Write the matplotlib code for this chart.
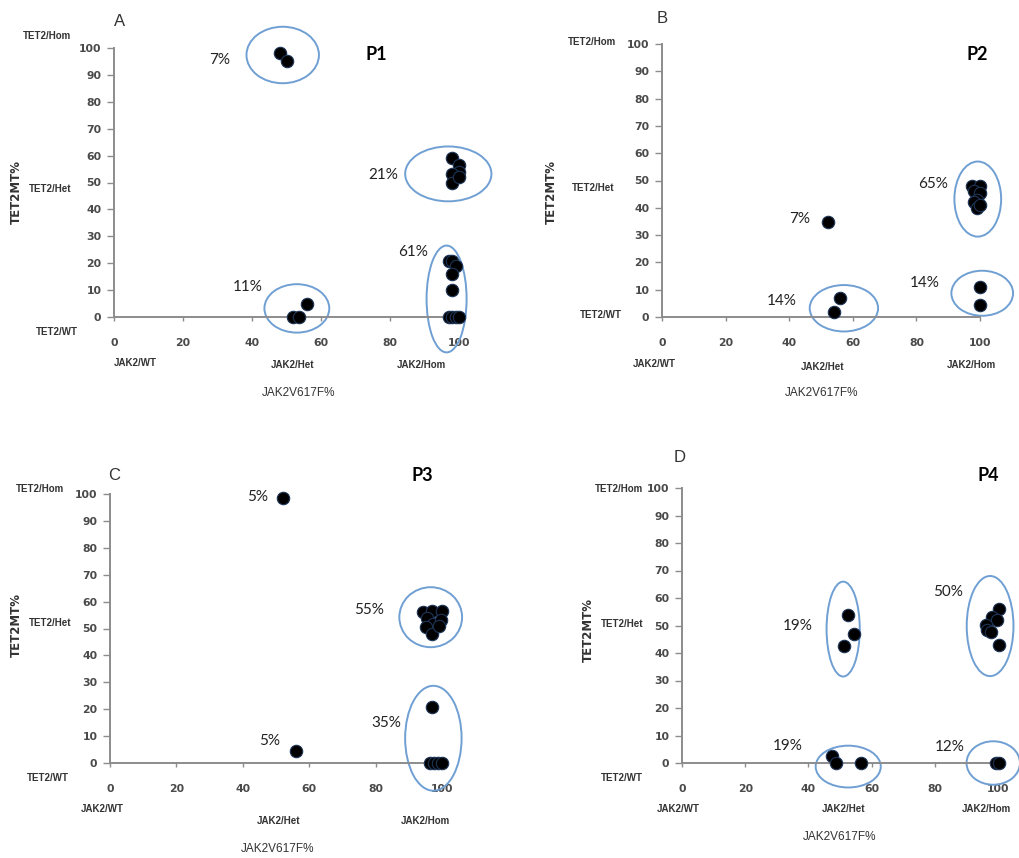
import matplotlib
matplotlib.use("Agg")
import matplotlib.pyplot as plt
from matplotlib.patches import Ellipse

W, H = 1019, 858

# ---------------- data ----------------
p1_x = [48, 50, 98, 100, 100, 98, 98, 100, 97, 98, 99, 98, 98, 97, 98, 99, 100, 52, 53.5, 56]
p1_y = [98, 95, 59, 56.5, 54, 53, 50, 52, 21, 21, 19, 16, 10, 0, 0, 0, 0, 0, 0, 5]
p1_clusters = [(48.9, 97.4, 21, 21), (96.9, 53.2, 25, 20.4), (96.4, 6.7, 11.6, 39.7), (53, 3.2, 18.8, 18)]
p1_labels = ["7%", "21%", "61%", "11%"]
p1_label_xy = [(30.7, 95.5), (78, 52.8), (86.8, 24), (38.9, 11)]

p2_x = [52.3, 97.5, 100, 98, 100, 99, 98, 99, 100, 100, 100, 56, 54]
p2_y = [34.7, 48, 48, 46, 45.5, 43, 42, 40, 41, 11, 4.5, 7, 2]
p2_clusters = [(99.3, 43.2, 14.7, 27.5), (100.7, 8.7, 19.4, 16.5), (57.2, 3.2, 21.5, 17)]
p2_labels = ["7%", "65%", "14%", "14%"]
p2_label_xy = [(43.4, 35.8), (85.3, 48.6), (82.7, 12.3), (37.6, 5.9)]

p3_x = [52, 56, 94.4, 97.1, 99.9, 95.6, 97.4, 99.6, 95.2, 96.9, 99.1, 96.9, 96.5, 97.6, 98.9, 100.1]
p3_y = [98.4, 4.6, 56, 56.6, 56.6, 53.8, 51.7, 53.2, 50.4, 47.8, 51, 20.9, 0, 0, 0, 0]
p3_clusters = [(96.6, 54.2, 18.9, 22.3), (97.4, 9.2, 17, 39)]
p3_labels = ["5%", "55%", "35%", "5%"]
p3_label_xy = [(44.4, 99), (78.1, 56.9), (83.3, 14.8), (48, 8.3)]

p4_x = [52.4, 54.5, 51.4, 100.3, 98, 99.8, 96.2, 96.6, 97.7, 100.3, 47.4, 48.6, 56.5, 99.4, 100.4]
p4_y = [53.8, 46.8, 42.7, 56, 53.2, 52, 50.2, 48.4, 47.5, 42.9, 2.5, 0, 0, 0, 0]
p4_clusters = [(51, 48.7, 10.5, 34.5), (97.5, 49.8, 14.8, 36.4), (52.6, -1.3, 20.6, 15.2), (98.5, 0, 16.9, 15.8)]
p4_labels = ["19%", "50%", "19%", "12%"]
p4_label_xy = [(36.5, 49.8), (84.3, 62.3), (33.4, 6.2), (84.6, 5.9)]

x_ticks = [0, 20, 40, 60, 80, 100]
y_ticks = [0, 10, 20, 30, 40, 50, 60, 70, 80, 90, 100]
tet2_cats = ["TET2/Hom", "TET2/Het", "TET2/WT"]
jak2_cats = ["JAK2/WT", "JAK2/Het", "JAK2/Hom"]
x_title = "JAK2V617F%"
y_title = "TET2MT%"

# ---------------- layout ----------------
panels = [
    dict(letter="A", name="P1", x=p1_x, y=p1_y, cl=p1_clusters, lab=p1_labels, labxy=p1_label_xy,
         box=(114, 459, 317, 48), letter_xy=(1.7, 109.8), name_xy=(76, 97.4),
         tet=[(46.7, 36), (50, 189), (56.7, 331.7)], jak=[(135, 363.3), (292.7, 365), (421.7, 365)],
         xt=(298.3, 393.3), yt=(16, 191.7)),
    dict(letter="B", name="P2", x=p2_x, y=p2_y, cl=p2_clusters, lab=p2_labels, labxy=p2_label_xy,
         box=(662, 980, 317, 44), letter_xy=(0, 109.4), name_xy=(99, 96),
         tet=[(591.7, 41.7), (593.3, 188.3), (600.7, 315)], jak=[(654, 364), (822.7, 367.3), (971.7, 365)],
         xt=(821.7, 393.3), yt=(551.7, 191.7)),
    dict(letter="C", name="P3", x=p3_x, y=p3_y, cl=p3_clusters, lab=p3_labels, labxy=p3_label_xy,
         box=(110, 442, 763, 494), letter_xy=(1.3, 107), name_xy=(94.2, 106.7),
         tet=[(40, 489.3), (50, 622.7), (48.3, 778.3)], jak=[(102.7, 809.3), (278.3, 820.7), (425, 820.7)],
         xt=(277.3, 849.3), yt=(16, 625)),
    dict(letter="D", name="P4", x=p4_x, y=p4_y, cl=p4_clusters, lab=p4_labels, labxy=p4_label_xy,
         box=(682, 998, 763, 488), letter_xy=(-0.6, 111), name_xy=(96.9, 104.7),
         tet=[(619.3, 489), (621.7, 624.3), (621.7, 778.3)], jak=[(678.3, 809.3), (844, 809.3), (986.7, 809.3)],
         xt=(840, 837.3), yt=(588.3, 630)),
]

fig = plt.figure(figsize=(W / 100, H / 100), dpi=100)
fig.patch.set_facecolor("white")

def fx(px):
    return px / W

def fy(py):
    return 1 - py / H

axis_col = "#8c8c8c"
ell_col = "#6f9fd3"

for p in panels:
    x0, x1, y0, y1 = p["box"]
    ax = fig.add_axes([fx(x0), fy(y0), (x1 - x0) / W, (y0 - y1) / H])
    ax.set_xlim(0, 100)
    ax.set_ylim(0, 100)
    ax.set_facecolor("none")
    for s in ["top", "right"]:
        ax.spines[s].set_visible(False)
    for s in ["left", "bottom"]:
        ax.spines[s].set_color(axis_col)
        ax.spines[s].set_linewidth(1.4)
    ax.set_xticks(x_ticks)
    ax.set_yticks(y_ticks)
    ax.tick_params(axis="x", direction="out", length=3, width=1, color=axis_col, pad=12,
                   labelsize=7.8, labelcolor="#4a4a4a")
    ax.tick_params(axis="y", direction="out", length=5, width=1, color=axis_col, pad=4,
                   labelsize=7.8, labelcolor="#4a4a4a")
    for t in ax.get_xticklabels() + ax.get_yticklabels():
        t.set_fontweight("bold")

    for (cx, cy, w, h) in p["cl"]:
        e = Ellipse((cx, cy), w, h, fill=False, edgecolor=ell_col, lw=1.4, clip_on=False, zorder=2)
        ax.add_patch(e)

    ax.scatter(p["x"], p["y"], s=80, c="black", edgecolors="#1d3557", linewidths=0.8,
               clip_on=False, zorder=3)

    for t, (tx, ty) in zip(p["lab"], p["labxy"]):
        ax.text(tx, ty, t, fontsize=11, family="Lato", color="#222222",
                ha="center", va="center", clip_on=False)

    ax.text(*p["name_xy"], p["name"], fontsize=13, family="Lato", fontweight="bold",
            ha="center", va="center", clip_on=False)
    ax.text(*p["letter_xy"], p["letter"], fontsize=12, family="Liberation Sans",
            color="#333333", ha="center", va="center", clip_on=False)

    for t, (tx, ty) in zip(tet2_cats, p["tet"]):
        fig.text(fx(tx), fy(ty), t, fontsize=7, fontweight="bold", family="Liberation Sans",
                 color="#333333", ha="center", va="center")
    for t, (tx, ty) in zip(jak2_cats, p["jak"]):
        fig.text(fx(tx), fy(ty), t, fontsize=7, fontweight="bold", family="Liberation Sans",
                 color="#333333", ha="center", va="center")
    fig.text(fx(p["xt"][0]), fy(p["xt"][1]), x_title, fontsize=8.5, family="Liberation Sans",
             color="#333333", ha="center", va="center")
    fig.text(fx(p["yt"][0]), fy(p["yt"][1]), y_title, fontsize=8.5, fontweight="bold",
             family="DejaVu Sans", color="#333333", ha="center", va="center", rotation=90)

fig.savefig("out.png", dpi=100, facecolor="white")
